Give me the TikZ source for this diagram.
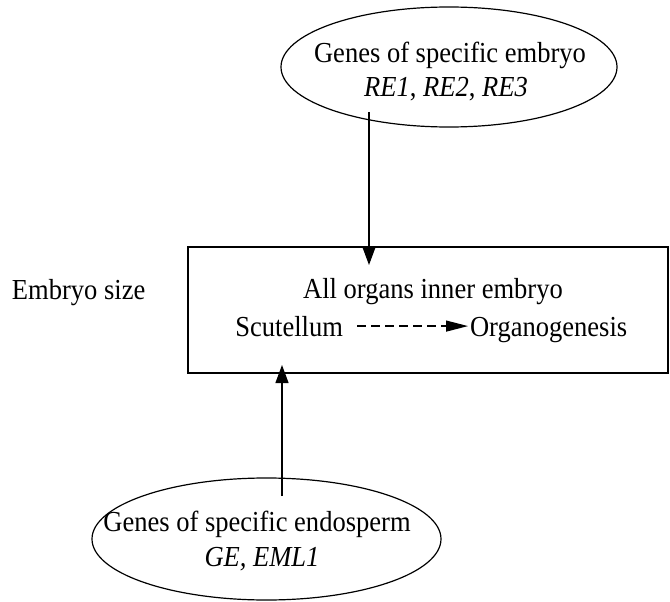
\documentclass[tikz,border=0pt]{standalone}
\usepackage{fontspec}
\setmainfont[FakeStretch=0.915]{Liberation Serif}
\usetikzlibrary{arrows.meta,shapes.geometric}
\begin{document}
\begin{tikzpicture}[x=1pt,y=-1pt,
  every node/.style={font=\fontsize{29}{35}\selectfont},
  ell/.style={draw,ellipse,line width=1.2pt,inner sep=0pt,outer sep=0pt},
  boxst/.style={draw,rectangle,line width=1.3pt,inner sep=0pt,outer sep=0pt},
  txt/.style={inner sep=0pt,outer sep=0pt},
  arr/.style={line width=1.2pt,-{Triangle[length=18pt,width=13pt]}},
  darr/.style={line width=1.2pt,dash pattern=on 8.5pt off 5.5pt,-{Triangle[length=22pt,width=11pt]}}]
\useasboundingbox (0,0) rectangle (670,602);
% top ellipse
\node[ell,minimum width=336pt,minimum height=120pt] (topE) at (449,67) {};
\node[txt,anchor=base] (topA) at (450,63) {Genes of specific embryo};
\node[txt,anchor=base] (topB) at (446,96) {\textit{RE1}, \textit{RE2}, \textit{RE3}};
% box
\node[boxst,minimum width=480pt,minimum height=126pt] (box) at (428,310) {};
\node[txt,anchor=base] (allorg) at (433,298) {All organs inner embryo};
\node[txt,anchor=base east] (scut) at (343,336) {Scutellum};
\node[txt,anchor=base west] (organ) at (470,336) {Organogenesis};
\draw[darr] ([xshift=14pt]scut.east) -- ([xshift=-2pt]scut.east -| organ.west);
% embryo size
\node[txt,anchor=base west] (esize) at (12,299) {Embryo size};
% bottom ellipse
\node[ell,minimum width=349pt,minimum height=122pt] (botE) at (266.5,539) {};
\node[txt,anchor=base] (botA) at (257,531) {Genes of specific endosperm};
\node[txt,anchor=base] (botB) at (262,566) {\textit{GE, EML1}};
% connectors
\draw[arr] ([shift={(-80,45)}]topE.center) -- ([shift={(-59,-45)}]box.center);
\draw[arr] ([shift={(15.5,-43)}]botE.center) -- ([shift={(-146,55)}]box.center);
\end{tikzpicture}
\end{document}
